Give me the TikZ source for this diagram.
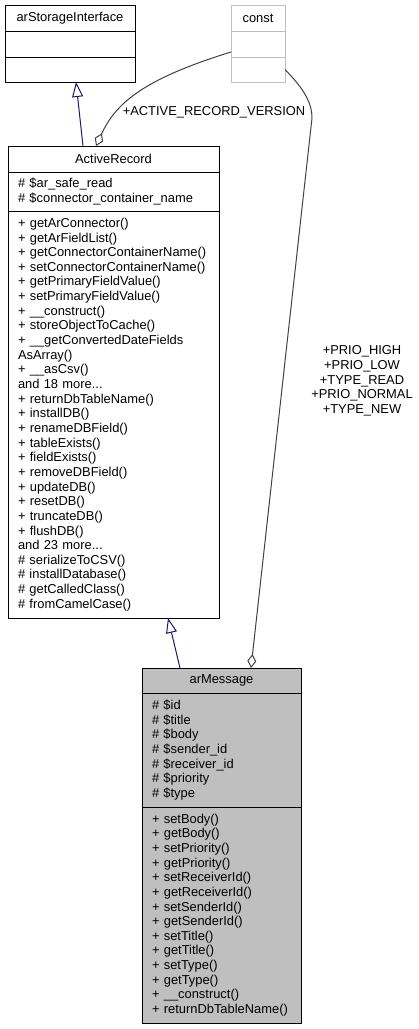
\documentclass[tikz,border=0pt]{standalone}
\usepackage{fontspec}
\setmainfont{Liberation Sans}
\usetikzlibrary{positioning,arrows.meta}

\definecolor{edgeblue}{HTML}{191970}
\definecolor{edgegray}{HTML}{404040}
\definecolor{lightgray}{HTML}{BFBFBF}

\tikzset{
    box/.style={draw, line width=1pt, inner xsep=10pt, inner ysep=0pt, outer sep=0pt,
        anchor=north, align=left, font=\fontsize{12.9}{14.65}\selectfont},
    extends/.style={draw=edgeblue, line width=1pt, -{Triangle[open, length=15pt, width=11pt]}},
    aggr/.style={draw=edgegray, line width=1pt, -{Diamond[open, length=14pt, width=9pt]}},
    lbl/.style={align=center, inner sep=0pt, font=\fontsize{12.9}{14.65}\selectfont}
}

\begin{document}
\begin{tikzpicture}[x=1pt, y=-1pt]
        \useasboundingbox (0,0) rectangle (419,1029);
        % arStorageInterface
        \node[box, align=center, text width=110pt, minimum height=26pt] (storage) at (70,5) {arStorageInterface};
        \node[box, text width=110pt, minimum height=26pt, below=0pt of storage] (storageA) {};
        \node[box, text width=110pt, minimum height=25pt, below=0pt of storageA] (storageM) {};
        % const
        \node[box, draw=lightgray, align=center, text width=34pt, minimum height=26pt] (const) at (258,5) {const};
        \node[box, draw=lightgray, text width=34pt, minimum height=26pt, below=0pt of const] (constA) {};
        \node[box, draw=lightgray, text width=34pt, minimum height=25pt, below=0pt of constA] (constM) {};
        % ActiveRecord
        \node[box, align=center, text width=191pt, minimum height=26pt] (record) at (113.5,146) {ActiveRecord};
        \node[box, text width=191pt, minimum height=39pt, below=0pt of record] (recordA)
            {\# \$ar\_safe\_read\\\# \$connector\_container\_name};
        \node[box, text width=191pt, minimum height=407pt, below=0pt of recordA] (recordM)
            {+ getArConnector()\\+ getArFieldList()\\+ getConnectorContainerName()\\
            + setConnectorContainerName()\\+ getPrimaryFieldValue()\\+ setPrimaryFieldValue()\\
            + \_\_construct()\\+ storeObjectToCache()\\+ \_\_getConvertedDateFields\\AsArray()\\
            + \_\_asCsv()\\and 18 more...\\+ returnDbTableName()\\+ installDB()\\
            + renameDBField()\\+ tableExists()\\+ fieldExists()\\+ removeDBField()\\
            + updateDB()\\+ resetDB()\\+ truncateDB()\\+ flushDB()\\and 23 more...\\
            \# serializeToCSV()\\\# installDatabase()\\\# getCalledClass()\\\# fromCamelCase()};
        % arMessage
        \node[box, fill=lightgray, align=center, text width=139pt, minimum height=25pt] (msg) at (221.5,668) {arMessage};
        \node[box, fill=lightgray, text width=139pt, minimum height=114pt, below=0pt of msg] (msgA)
            {\# \$id\\\# \$title\\\# \$body\\\# \$sender\_id\\\# \$receiver\_id\\\# \$priority\\\# \$type};
        \node[box, fill=lightgray, text width=139pt, minimum height=216pt, below=0pt of msgA] (msgM)
            {+ setBody()\\+ getBody()\\+ setPriority()\\+ getPriority()\\+ setReceiverId()\\
            + getReceiverId()\\+ setSenderId()\\+ getSenderId()\\+ setTitle()\\+ getTitle()\\
            + setType()\\+ getType()\\+ \_\_construct()\\+ returnDbTableName()};
        % edges
        \draw[extends] ([xshift=75pt]record.north west) -- ([xshift=71pt]storageM.south west);
        \draw[extends] ([xshift=38pt]msg.north west) -- ([xshift=160pt]recordM.south west);
        \draw[aggr] ([yshift=-8pt]constA.west) .. controls (140,80) and (115,105) .. ([xshift=88pt]record.north west);
        \draw[aggr] (constM.east) .. controls (300,85) and (312,100) .. (312,118) -- ([xshift=109pt]msg.north west);
        \node[lbl] (verLbl) at (214,112) {+ACTIVE\_RECORD\_VERSION};
        \node[lbl] (prioLbl) at (362,381) {+PRIO\_HIGH\\+PRIO\_LOW\\+TYPE\_READ\\+PRIO\_NORMAL\\+TYPE\_NEW};
    \end{tikzpicture}
\end{document}
